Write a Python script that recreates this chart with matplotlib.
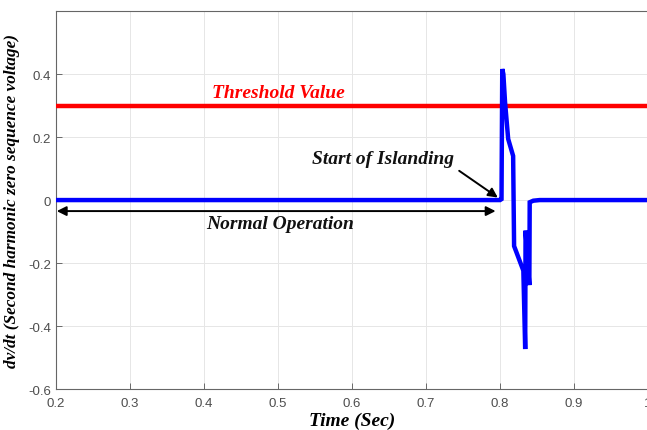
#!/usr/bin/env python3
"""
Plot dv/dt of the second harmonic zero sequence voltage around islanding
"""

import matplotlib
matplotlib.use('Agg')
import matplotlib.pyplot as plt
import numpy as np

# time samples (s) and dv/dt values read from the measurement
time_s = [0.2, 0.8, 0.802, 0.803, 0.8045, 0.8068, 0.811, 0.8177, 0.819,
          0.8315, 0.834, 0.8345, 0.8396, 0.8401, 0.845, 0.8535, 1.0]
dvdt = [0.0, 0.0, 0.003, 0.416, 0.40, 0.31, 0.194, 0.14, -0.146,
        -0.224, -0.473, -0.097, -0.27, -0.007, -0.002, 0.0, 0.0]

threshold = 0.3

x_ticks = [0.2, 0.3, 0.4, 0.5, 0.6, 0.7, 0.8, 0.9, 1.0]
y_ticks = [-0.6, -0.4, -0.2, 0.0, 0.2, 0.4]
x_tick_labels = ['0.2', '0.3', '0.4', '0.5', '0.6', '0.7', '0.8', '0.9', '1']
y_tick_labels = ['-0.6', '-0.4', '-0.2', '0', '0.2', '0.4']


def plot_islanding(output_file='out.png'):
    serif = ['Liberation Serif', 'DejaVu Serif']
    label_font = dict(family=serif, fontweight='bold', fontstyle='italic')

    fig = plt.figure(figsize=(6.47, 4.31), dpi=100)
    ax = fig.add_axes([0.0866, 0.095, 0.915, 0.877])

    # threshold and signal
    ax.axhline(threshold, color='#ff0000', linewidth=3.2, zorder=3)
    ax.plot(time_s, dvdt, color='#0000ff', linewidth=3.2, zorder=4,
            solid_joinstyle='miter')

    ax.set_xlim(0.2, 1.0)
    ax.set_ylim(-0.6, 0.6)
    ax.set_xticks(x_ticks)
    ax.set_xticklabels(x_tick_labels, family=['Liberation Sans', 'DejaVu Sans'])
    ax.set_yticks(y_ticks)
    ax.set_yticklabels(y_tick_labels, family=['Liberation Sans', 'DejaVu Sans'])
    ax.tick_params(direction='in', length=4, width=0.6, colors='#555555',
                   labelsize=9.5, labelcolor='#4d4d4d', top=False, right=False)
    ax.tick_params(axis='x', pad=6)
    ax.grid(True, color='#e6e6e6', linewidth=0.7, zorder=0)
    for side in ax.spines.values():
        side.set_color('#666666')
        side.set_linewidth(0.8)

    ax.set_xlabel('Time (Sec)', fontsize=14, labelpad=2, **label_font)
    ax.set_ylabel('dv/dt (Second harmonic zero sequence voltage)',
                  fontsize=12.4, labelpad=6, **label_font)

    # annotations
    ax.text(0.501, 0.343, 'Threshold Value', color='#ff0000', fontsize=14,
            ha='center', va='center', **label_font)
    ax.annotate('', xy=(0.201, -0.035), xytext=(0.794, -0.035),
                arrowprops=dict(arrowstyle='<|-|>', color='black', lw=1.4,
                                mutation_scale=14, shrinkA=0, shrinkB=0))
    ax.text(0.503, -0.075, 'Normal Operation', color='#111111', fontsize=14,
            ha='center', va='center', **label_font)
    ax.annotate('Start of Islanding', xy=(0.797, 0.008), xytext=(0.642, 0.131),
                color='#111111', fontsize=14, ha='center', va='center',
                arrowprops=dict(arrowstyle='-|>', color='black', lw=1.4,
                                mutation_scale=14, shrinkA=2, shrinkB=0,
                                relpos=(1.0, 0.0)),
                **label_font)

    fig.savefig(output_file, dpi=100)
    print(f"Plot saved to: {output_file}")


if __name__ == '__main__':
    plot_islanding()
